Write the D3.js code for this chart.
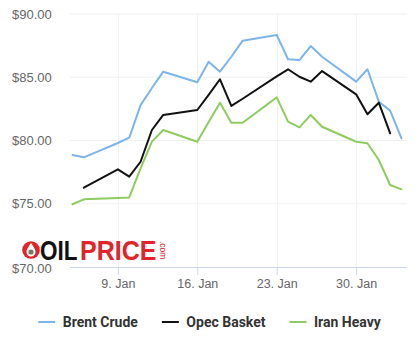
<!DOCTYPE html>
<html>
<head>
<meta charset="utf-8">
<script src="https://cdn.jsdelivr.net/npm/d3@7"></script>
<style>
  html, body { margin: 0; padding: 0; background: #fff; }
  svg { display: block; }
</style>
</head>
<body>
<svg id="chart" width="418" height="352"></svg>
<script>
const dates = ["2023-01-05","2023-01-06","2023-01-09","2023-01-10","2023-01-11","2023-01-12","2023-01-13",
  "2023-01-16","2023-01-17","2023-01-18","2023-01-19","2023-01-20","2023-01-23","2023-01-24","2023-01-25",
  "2023-01-26","2023-01-27","2023-01-30","2023-01-31","2023-02-01","2023-02-02","2023-02-03"];
const brentCrude = [78.85,78.67,79.8,80.22,82.8,84.15,85.44,84.6,86.23,85.44,86.62,87.89,88.34,86.42,86.36,87.47,86.62,84.65,85.63,83.07,82.36,80.17];
const opecBasket = [null,76.27,77.72,77.14,78.32,80.83,82.02,82.41,83.6,84.84,82.73,83.3,85.07,85.63,85.04,84.65,85.49,83.65,82.07,82.99,80.57,null];
const iranHeavy = [74.96,75.35,75.45,75.5,77.8,79.91,80.83,79.9,81.46,82.99,81.4,81.4,83.41,81.49,81.04,82.02,81.09,79.9,79.78,78.46,76.48,76.14];
const yTicks = [70,75,80,85,90];
const xTicks = ["2023-01-09","2023-01-16","2023-01-23","2023-01-30"];
const seriesNames = ["Brent Crude","Opec Basket","Iran Heavy"];
const seriesColors = ["#7cb5ec","#111111","#8fcc5f"];
const seriesValues = [brentCrude, opecBasket, iranHeavy];

const svg = d3.select("#chart");
const parse = d3.utcParse("%Y-%m-%d");
const dd = dates.map(parse);

const x = d3.scaleUtc().domain([dd[0], dd[dd.length-1]]).range([72.5, 401.5]);
const y = d3.scaleLinear().domain([70, 90]).range([267, 14]);
const plotLeft = 70, plotRight = 407;

// grid
const grid = svg.append("g");
grid.selectAll("line.h").data(yTicks.filter(v => v !== 70)).join("line")
  .attr("x1", plotLeft).attr("x2", plotRight)
  .attr("y1", d => y(d)).attr("y2", d => y(d))
  .attr("stroke", "#efefef").attr("stroke-width", 1);
grid.selectAll("line.v").data(xTicks.map(parse)).join("line")
  .attr("x1", d => Math.round(x(d)) + 0.5).attr("x2", d => Math.round(x(d)) + 0.5)
  .attr("y1", y(90)).attr("y2", y(70))
  .attr("stroke", "#f0f0f0").attr("stroke-width", 1);

// y labels
svg.append("g").selectAll("text").data(yTicks).join("text")
  .attr("x", 12).attr("y", d => y(d) + (d === 70 ? 5.5 : 4.5))
  .attr("font-family", "Liberation Sans, Arial, sans-serif")
  .attr("font-size", 13).attr("fill", "#666")
  .text(d => "$" + d.toFixed(2));

// x axis
const xAxis = d3.axisBottom(x).tickValues(xTicks.map(parse))
  .tickFormat(d3.utcFormat("%-d. %b")).tickSize(8).tickSizeOuter(0);
const gx = svg.append("g").attr("transform", `translate(0,${y(70)})`).call(xAxis);
gx.select(".domain").attr("d", `M${plotLeft},0.5H${plotRight}`).attr("stroke", "#ccd6eb");
gx.selectAll(".tick line").attr("stroke", "#ccd6eb");
gx.selectAll(".tick text").attr("font-family", "Liberation Sans, Arial, sans-serif")
  .attr("font-size", 12.5).attr("fill", "#666").attr("dy", "0.95em").attr("y", 9);

// lines
const line = d3.line()
  .defined(d => d.v != null)
  .x(d => x(d.t)).y(d => y(d.v));
seriesValues.forEach((vals, i) => {
  svg.append("path")
    .datum(vals.map((v, j) => ({t: dd[j], v})))
    .attr("fill", "none")
    .attr("stroke", seriesColors[i])
    .attr("stroke-width", 2)
    .attr("stroke-linejoin", "round")
    .attr("stroke-linecap", "round")
    .attr("d", line);
});

// logo
const logo = svg.append("g");
logo.append("circle").attr("cx", 31).attr("cy", 250).attr("r", 8.8).attr("fill", "#e0242a");
logo.append("path").attr("d", "M31,243 C28,247.5 26.5,249.5 26.5,252 A4.5,4.5 0 0 0 35.5,252 C35.5,249.5 34,247.5 31,243 Z").attr("fill", "#fff");
logo.append("circle").attr("cx", 31).attr("cy", 252).attr("r", 2.6).attr("fill", "#6b7d62");
function logoWord(txt, x0, w, color) {
  const t = logo.append("text").attr("x", 0).attr("y", 0)
    .attr("font-family", "Liberation Sans, Arial, sans-serif").attr("font-weight", "bold")
    .attr("font-size", 27).attr("fill", color).text(txt);
  const nat = t.node().getComputedTextLength();
  t.attr("transform", `translate(${x0},259.5) scale(${w / nat},1)`);
}
logoWord("OIL", 40, 37.5, "#111");
logoWord("PRICE", 80, 76.5, "#e0242a");
logo.append("text").attr("transform", "translate(160,241) rotate(90)")
  .attr("font-family", "Liberation Sans, Arial, sans-serif").attr("font-size", 8.5)
  .attr("fill", "#e0242a").text(".com");

// legend
const legend = svg.append("g");
const items = seriesNames.map((name, i) => {
  const g = legend.append("g");
  g.append("line").attr("x1", 0).attr("x2", 17).attr("y1", 322).attr("y2", 322)
    .attr("stroke", seriesColors[i]).attr("stroke-width", 2);
  const t = g.append("text").attr("x", 24.5).attr("y", 327)
    .attr("font-family", "Roboto, sans-serif").attr("font-weight", "bold")
    .attr("font-size", 14).attr("fill", "#333").text(name);
  return {g, w: 24.5 + t.node().getComputedTextLength()};
});
const gap = 24;
const total = d3.sum(items, d => d.w) + gap * (items.length - 1);
let cx = 209.5 - total / 2;
items.forEach(it => { it.g.attr("transform", `translate(${cx},0)`); cx += it.w + gap; });
</script>
</body>
</html>
